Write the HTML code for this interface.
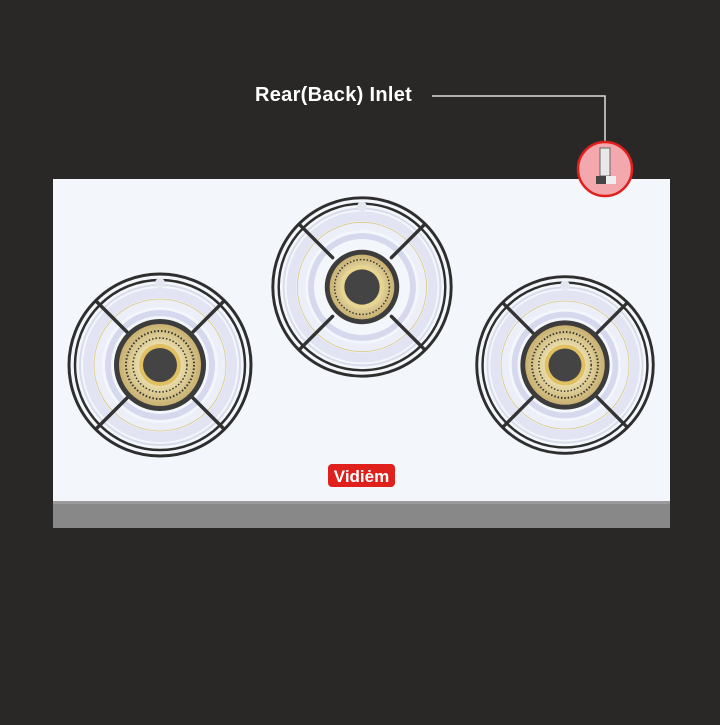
<!DOCTYPE html>
<html><head><meta charset="utf-8"><style>
html,body{margin:0;padding:0;background:#292826;}
</style></head><body>
<svg width="720" height="720" viewBox="0 0 720 720" xmlns="http://www.w3.org/2000/svg">
<defs>
<radialGradient id="brass" cx="50%" cy="50%" r="50%">
<stop offset="0.4" stop-color="#f0e6b8"/><stop offset="1" stop-color="#c8b070"/>
</radialGradient>
<g id="grate">
<circle r="80" fill="none" stroke="#d8dcea" stroke-width="2"/>
<circle r="72" fill="none" stroke="#e2e4f4" stroke-width="10"/>
<circle r="62" fill="none" stroke="#eceef8" stroke-width="8"/>
<circle r="66" fill="none" stroke="#d8c880" stroke-width="0.8"/>
<circle r="52" fill="none" stroke="#d6d8ee" stroke-width="6"/>
<g stroke="#333" stroke-width="3.5" stroke-linecap="round">
<line x1="-64" y1="-64" x2="-30" y2="-30"/><line x1="64" y1="-64" x2="30" y2="-30"/>
<line x1="-64" y1="64" x2="-30" y2="30"/><line x1="64" y1="64" x2="30" y2="30"/>
</g>
<circle r="91" fill="none" stroke="#2e2e2e" stroke-width="3"/>
<circle r="85" fill="none" stroke="#2e2e2e" stroke-width="2.5"/>
<circle cx="0" cy="-82" r="5" fill="#e4e6f0"/>
</g>
<g id="big">
<circle r="46" fill="#3c3c3c"/>
<circle r="41" fill="url(#brass)"/>
<circle r="34" fill="none" stroke="#333" stroke-width="2" stroke-dasharray="1.5 2"/>
<circle r="27" fill="none" stroke="#333" stroke-width="1.5" stroke-dasharray="1.5 2"/>
<circle r="21" fill="#e0c060"/>
<circle r="17" fill="#444"/>
</g>
<g id="small">
<circle r="38" fill="#3c3c3c"/>
<circle r="33" fill="url(#brass)"/>
<circle r="28" fill="none" stroke="#333" stroke-width="1.5" stroke-dasharray="1.5 2"/>
<circle r="22" fill="#e8d690"/>
<circle r="18" fill="#444"/>
</g>
</defs>
<rect x="53" y="179" width="617" height="322" fill="#f3f6fa"/>
<rect x="53" y="501" width="617" height="27" fill="#888"/>
<rect x="53" y="501" width="617" height="3" fill="#9a9a9a"/>
<g transform="translate(160,365)"><use href="#grate"/><use href="#big"/></g>
<g transform="translate(362,287) scale(0.98)"><use href="#grate"/><use href="#small"/></g>
<g transform="translate(565,365) scale(0.97)"><use href="#grate"/><use href="#big"/></g>
<rect x="328" y="464" width="67" height="23" rx="4" fill="#e0201c"/>
<text x="361.5" y="482" text-anchor="middle" font-family="Liberation Sans, sans-serif" font-weight="bold" font-size="17" fill="#fff">Vidiėm</text>
<text x="255" y="101" font-family="Liberation Sans, sans-serif" font-weight="bold" font-size="20" letter-spacing="0.3" fill="#fff">Rear(Back) Inlet</text>
<polyline points="432,96 605,96 605,142" fill="none" stroke="#ddd" stroke-width="1.5"/>
<circle cx="605" cy="169" r="27" fill="#f2a8ac" stroke="#e0201c" stroke-width="2.5"/>
<rect x="600" y="148" width="10" height="28" fill="#e8e8e8" stroke="#666" stroke-width="1"/>
<rect x="596" y="176" width="20" height="8" fill="#444"/>
<rect x="606" y="176" width="10" height="8" fill="#eee"/>
</svg>
</body></html>
